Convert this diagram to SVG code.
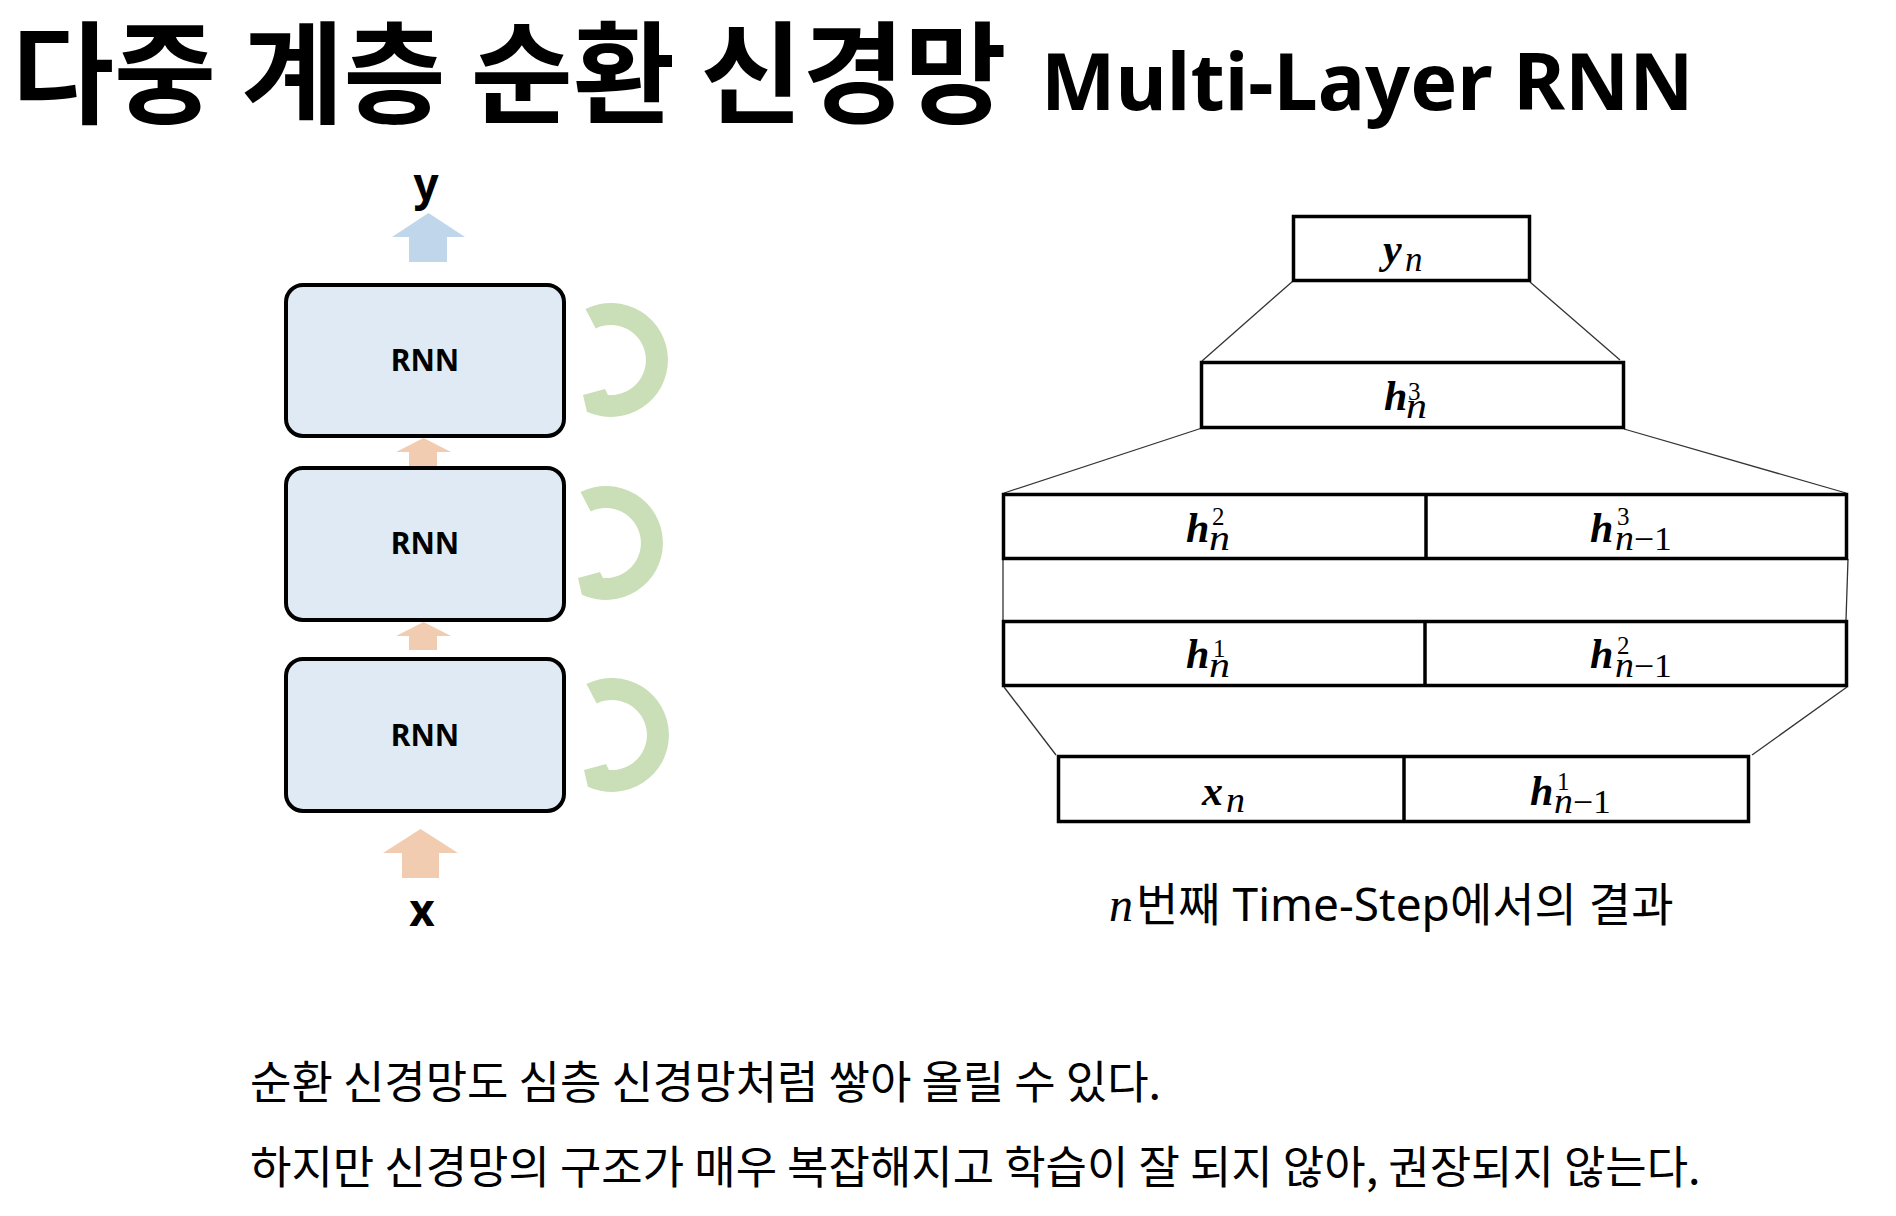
<svg xmlns="http://www.w3.org/2000/svg" width="1896" height="1216" viewBox="0 0 1896 1216">
<style>
.ko{font-family:"Noto Sans CJK KR","Noto Sans",sans-serif}
.lat{font-family:"Noto Sans","Noto Sans CJK KR",sans-serif}
.rnn{fill:#dfeaf5;stroke:#000;stroke-width:4}
.lbl{font-family:"Noto Sans",sans-serif;font-weight:700;font-size:30px;text-anchor:middle}
.cell{fill:#fff;stroke:#000;stroke-width:3.5}
.div{stroke:#000;stroke-width:3.5}
.thin{stroke:#333;stroke-width:1.3;fill:none}
.mb{font-family:"Liberation Serif",serif;font-weight:700;font-style:italic;font-size:42px}
.mi{font-family:"Liberation Serif",serif;font-style:italic;font-size:35px}
.mr{font-family:"Liberation Serif",serif;font-style:normal;font-size:33px}
.sup{font-family:"Liberation Serif",serif;font-style:normal;font-size:25px}
.loop{fill:#cadfb8}
.orange{fill:#f2ccb0}
.blue{fill:#c0d6eb}
</style>
<rect width="1896" height="1216" fill="#fff"/>
<g id="title">
<text class="ko" x="12" y="115" font-size="111" font-weight="700">다중 계층 순환 신경망</text>
<text class="lat" x="1041" y="110" font-size="79" font-weight="700">Multi-Layer RNN</text>
</g>
<g id="label-y"><text class="lat" x="426" y="200" font-size="44" font-weight="700" text-anchor="middle">y</text></g>
<g id="label-x"><text class="lat" x="422" y="926" font-size="44" font-weight="700" text-anchor="middle">x</text></g>
<g id="rnn-top"><rect class="rnn" x="286" y="285" width="278" height="151" rx="17"/><text class="lbl" x="425" y="371">RNN</text></g>
<g id="rnn-mid"><rect class="rnn" x="286" y="468" width="278" height="152" rx="17"/><text class="lbl" x="425" y="554">RNN</text></g>
<g id="rnn-bot"><rect class="rnn" x="286" y="659" width="278" height="152" rx="17"/><text class="lbl" x="425" y="746">RNN</text></g>
<g id="connectors-left">
<polygon class="blue" points="428.5,213 465,237 447,237 447,262 409,262 409,237 392,237"/>
<polygon class="orange" points="423.5,438 451,452 437,452 437,466 409,466 409,452 396,452"/>
<polygon class="orange" points="423.5,622 451,636 437,636 437,650 409,650 409,636 396,636"/>
<polygon class="orange" points="420.5,829 458,853 439,853 439,878 402,878 402,853 383,853"/>
<path class="loop" transform="translate(611,360)" d="M -25.5,-51 A 57 57 0 1 1 -24.1,51.7 L -28,35 L -6,29 L -3,34.9 A 35 35 0 1 0 -15.3,-31.5 Z"/>
<path class="loop" transform="translate(606,543)" d="M -25.5,-51 A 57 57 0 1 1 -24.1,51.7 L -28,35 L -6,29 L -3,34.9 A 35 35 0 1 0 -15.3,-31.5 Z"/>
<path class="loop" transform="translate(612,735)" d="M -25.5,-51 A 57 57 0 1 1 -24.1,51.7 L -28,35 L -6,29 L -3,34.9 A 35 35 0 1 0 -15.3,-31.5 Z"/>
</g>
<g id="connectors-right">
<line class="thin" x1="1293" y1="281" x2="1202" y2="361"/>
<line class="thin" x1="1530" y1="282" x2="1620" y2="360"/>
<line class="thin" x1="1202" y1="428" x2="1004" y2="493"/>
<line class="thin" x1="1624" y1="429" x2="1846" y2="493"/>
<line class="thin" x1="1003" y1="559" x2="1003" y2="620" stroke="#aaa"/>
<line class="thin" x1="1848" y1="559" x2="1846" y2="620"/>
<line class="thin" x1="1004" y1="687" x2="1056" y2="755"/>
<line class="thin" x1="1847" y1="687" x2="1752" y2="755"/>
</g>
<g id="box-yn">
<rect class="cell" x="1293.5" y="216.5" width="236" height="64"/>
<text class="mb" x="1383" y="263" font-size="46">y</text><text class="mi" x="1405" y="271">n</text>
</g>
<g id="box-h3n">
<rect class="cell" x="1201.5" y="362.5" width="422" height="65"/>
<text class="mb" x="1384" y="410">h</text><text class="sup" x="1408" y="400">3</text><text class="mi" x="1406" y="418" textLength="21" lengthAdjust="spacingAndGlyphs">n</text>
</g>
<g id="row-h2">
<rect class="cell" x="1003.5" y="494.5" width="843" height="64"/>
<line class="div" x1="1426" y1="494.5" x2="1426" y2="558.5"/>
<text class="mb" x="1186" y="542">h</text><text class="sup" x="1212" y="525">2</text><text class="mi" x="1209" y="550" textLength="21" lengthAdjust="spacingAndGlyphs">n</text>
<text class="mb" x="1590" y="542">h</text><text class="sup" x="1617" y="525">3</text><text class="mi" x="1615" y="550" textLength="57" lengthAdjust="spacingAndGlyphs">n<tspan class="mr">−1</tspan></text>
</g>
<g id="row-h1">
<rect class="cell" x="1003.5" y="621.5" width="843" height="64"/>
<line class="div" x1="1425" y1="621.5" x2="1425" y2="685.5"/>
<text class="mb" x="1186" y="668">h</text><text class="sup" x="1213" y="657">1</text><text class="mi" x="1209" y="677" textLength="21" lengthAdjust="spacingAndGlyphs">n</text>
<text class="mb" x="1590" y="668">h</text><text class="sup" x="1617" y="654">2</text><text class="mi" x="1615" y="677" textLength="57" lengthAdjust="spacingAndGlyphs">n<tspan class="mr">−1</tspan></text>
</g>
<g id="row-x">
<rect class="cell" x="1058.5" y="756.5" width="690" height="65"/>
<line class="div" x1="1404" y1="756.5" x2="1404" y2="821.5"/>
<text class="mb" x="1202" y="805" font-size="46">x</text><text class="mi" x="1226" y="812" textLength="19" lengthAdjust="spacingAndGlyphs">n</text>
<text class="mb" x="1530" y="805">h</text><text class="sup" x="1557" y="790">1</text><text class="mi" x="1554" y="813" textLength="57" lengthAdjust="spacingAndGlyphs">n<tspan class="mr">−1</tspan></text>
</g>
<g id="caption">
<text x="1109" y="921" font-family="Liberation Serif,serif" font-style="italic" font-size="48">n</text>
<text class="lat" x="1136" y="921" font-size="46">번째 Time-Step에서의 결과</text>
</g>
<g id="body-text">
<text class="ko" x="250" y="1099" font-size="45">순환 신경망도 심층 신경망처럼 쌓아 올릴 수 있다.</text>
<text class="ko" x="250" y="1184" font-size="45">하지만 신경망의 구조가 매우 복잡해지고 학습이 잘 되지 않아, 권장되지 않는다.</text>
</g>
</svg>
